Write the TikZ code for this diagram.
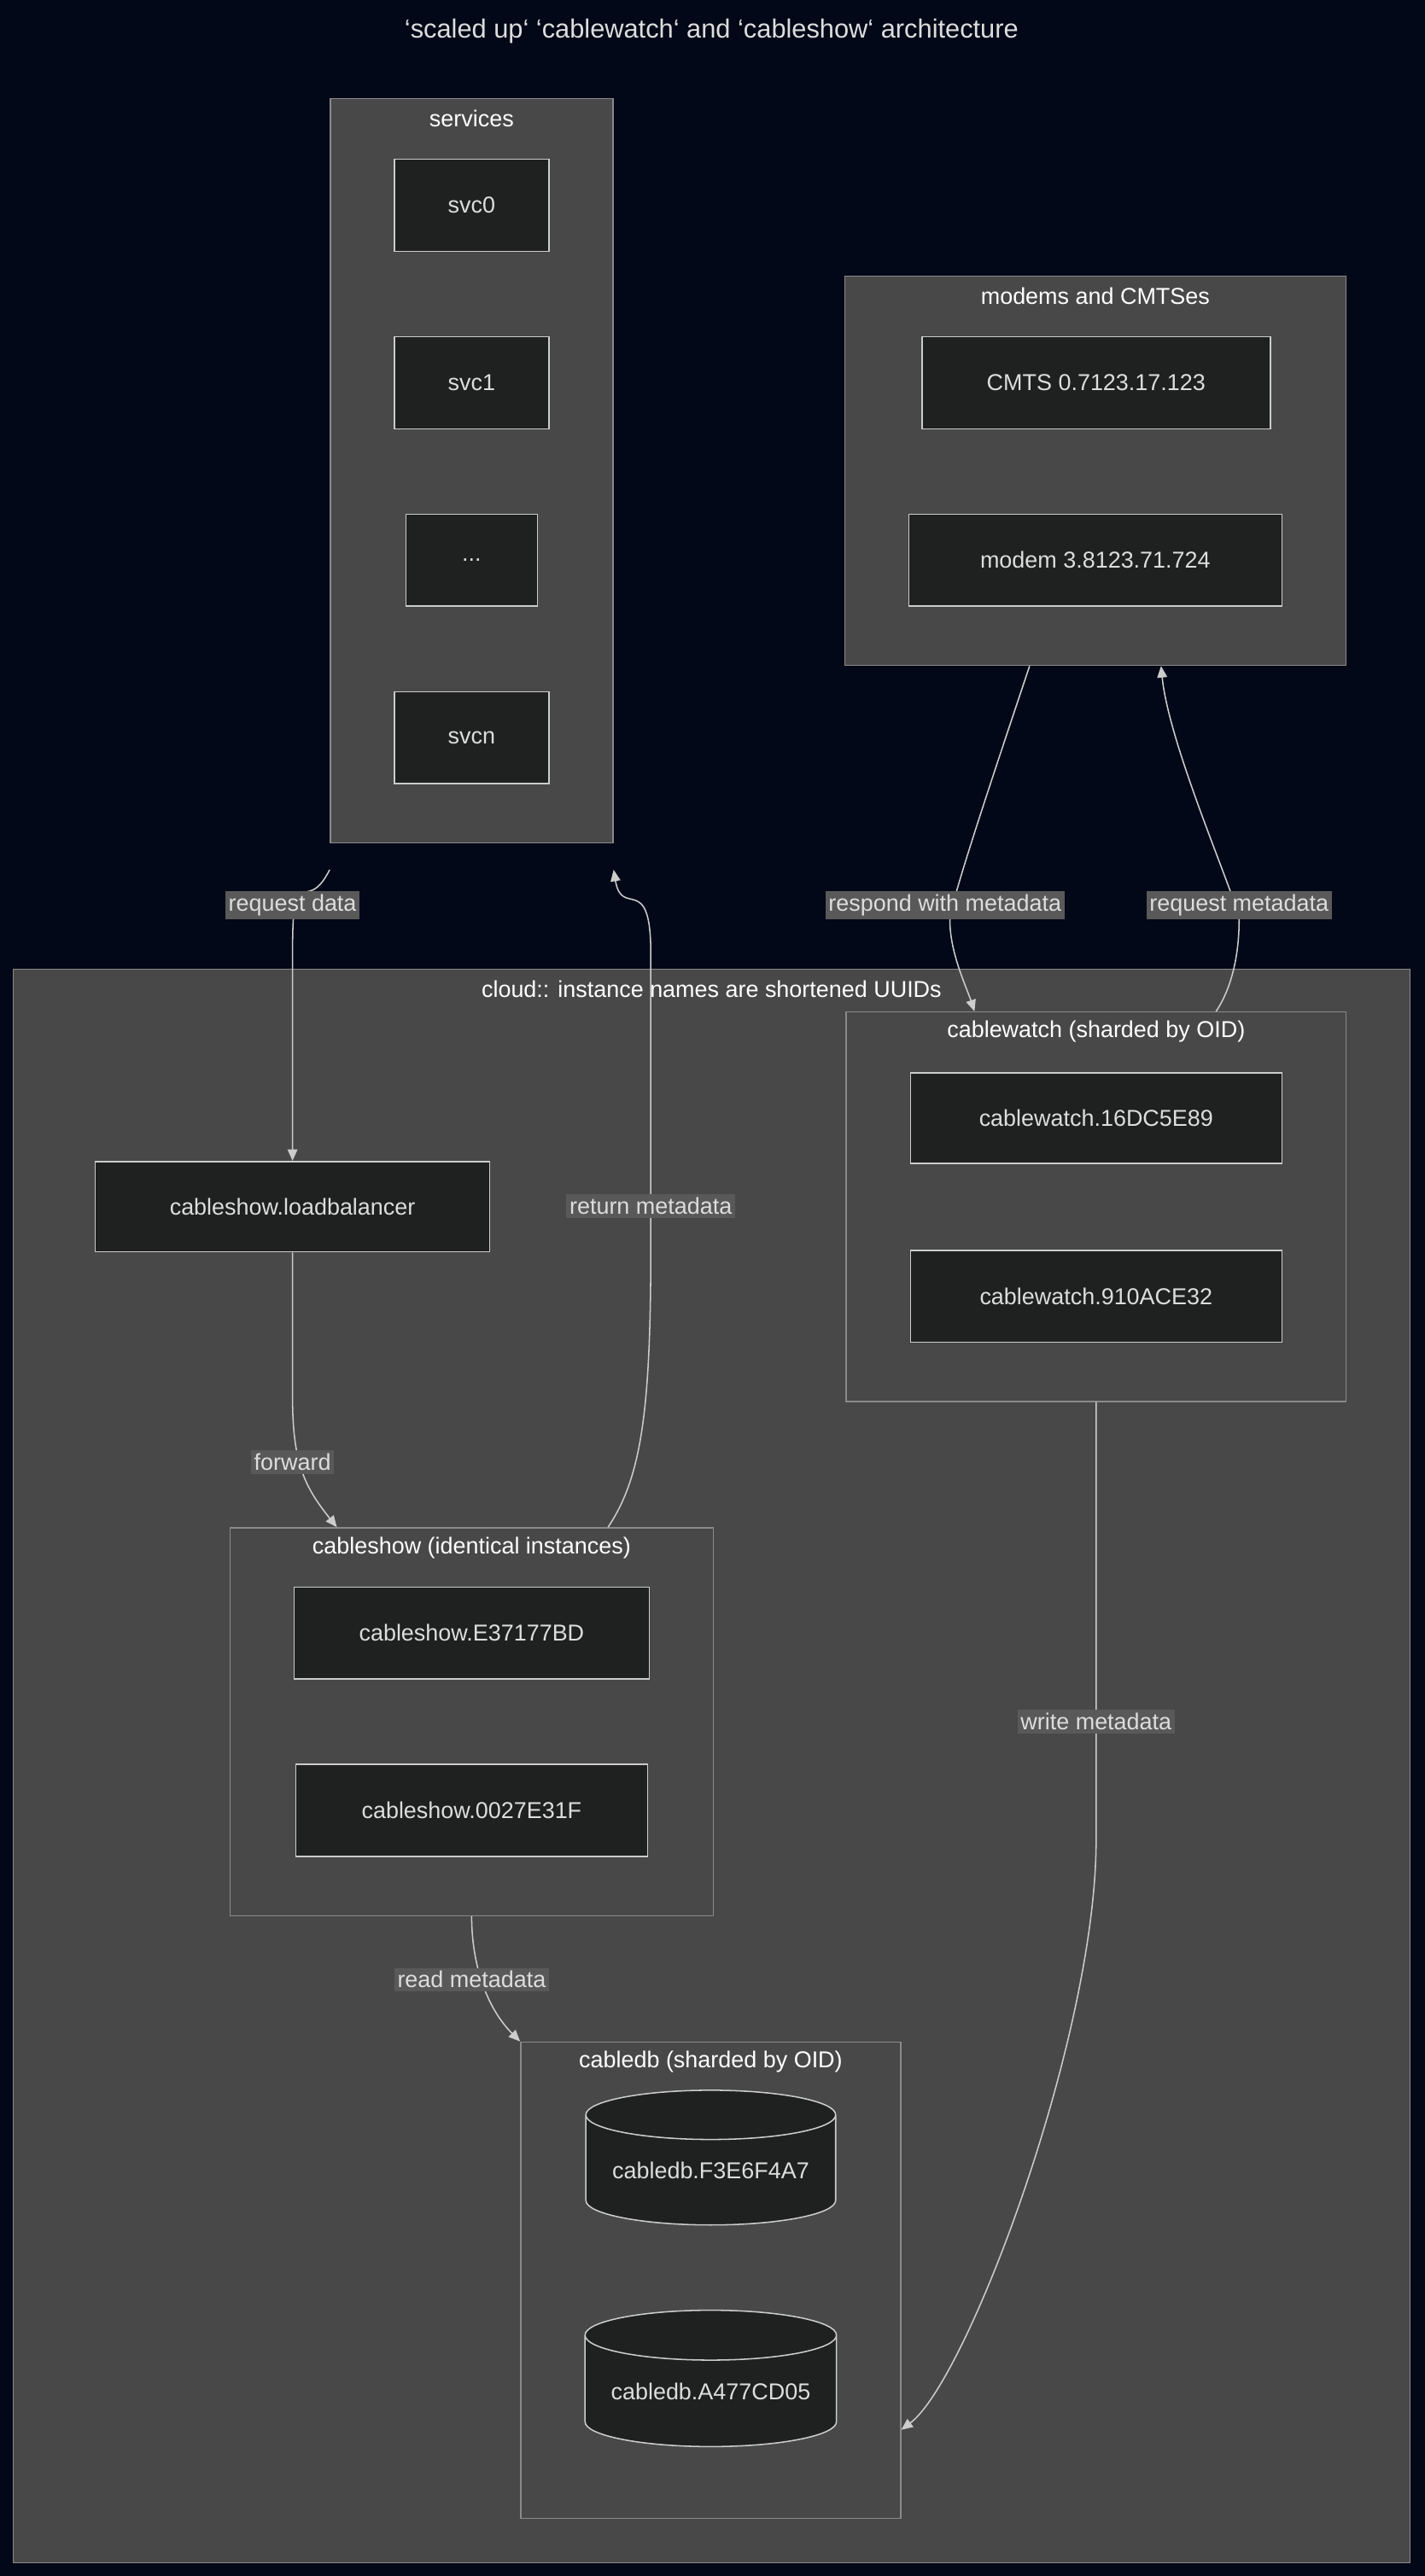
\documentclass[tikz,border=0pt]{standalone}
\usepackage{fontspec}
\setmainfont{Liberation Sans}
\usetikzlibrary{shapes.geometric,arrows.meta}
\definecolor{bg}{HTML}{020817}
\definecolor{grp}{HTML}{474847}
\definecolor{grpl}{HTML}{8A8A8A}
\definecolor{nd}{HTML}{1F2020}
\definecolor{ndl}{HTML}{CCCCCC}
\definecolor{txt}{HTML}{DDDDDD}
\definecolor{lbl}{HTML}{595959}
\begin{document}
\begin{tikzpicture}[x=1pt,y=-1pt,font=\fontsize{14}{16}\selectfont,
 grpbox/.style={draw=grpl,fill=grp,line width=0.8pt},
 glabel/.style={text=white,anchor=center,inner sep=0pt},
 box/.style={draw=ndl,fill=nd,text=txt,line width=0.8pt,inner sep=0pt},
 db/.style={cylinder,shape border rotate=90,aspect=0.25,draw=ndl,fill=nd,text=txt,line width=0.8pt,inner sep=0pt},
 elbl/.style={fill=lbl,text=txt,inner sep=2pt},
 edge/.style={draw=ndl,line width=0.8pt,-{Triangle[length=7pt,width=6pt]}}]
\fill[bg] (0,0) rectangle (867,1568);
\useasboundingbox (0,0) rectangle (867,1568);
\node[text=txt,font=\fontsize{16}{18}\selectfont] (title) at (433,19) {`scaled up` `cablewatch` and `cableshow` architecture};
% groups
\node[grpbox,minimum width=172,minimum height=453,inner sep=0pt] (services) at (287,286.5) {};
\node[glabel] (servicesl) at (287,72) {services};
\node[grpbox,minimum width=305,minimum height=237,inner sep=0pt] (modems) at (666.5,286.5) {};
\node[glabel] (modemsl) at (666.5,180) {modems and CMTSes};
\node[grpbox,minimum width=850,minimum height=970,inner sep=0pt] (cloud) at (433,1075) {};
\node[glabel] (cloudl) at (433,602) {cloud:: instance names are shortened UUIDs};
\node[grpbox,minimum width=304,minimum height=237,inner sep=0pt] (cwg) at (667,734.5) {};
\node[glabel] (cwgl) at (667,628) {cablewatch (sharded by OID)};
\node[grpbox,minimum width=294,minimum height=236,inner sep=0pt] (csg) at (287,1048) {};
\node[glabel] (csgl) at (287,942) {cableshow (identical instances)};
\node[grpbox,minimum width=231,minimum height=290,inner sep=0pt] (dbg) at (432.5,1388) {};
\node[glabel] (dbgl) at (432.5,1255) {cabledb (sharded by OID)};
% nodes
\node[box,minimum width=94,minimum height=56] (svc0) at (287,125) {svc0};
\node[box,minimum width=94,minimum height=56] (svc1) at (287,233) {svc1};
\node[box,minimum width=80,minimum height=56] (dots) at (287,341) {...};
\node[box,minimum width=94,minimum height=56] (svcn) at (287,449) {svcn};
\node[box,minimum width=212,minimum height=56] (cmts) at (667,233) {CMTS 0.7123.17.123};
\node[box,minimum width=227,minimum height=56] (modem) at (666.5,341) {modem 3.8123.71.724};
\node[box,minimum width=226,minimum height=55] (cw1) at (667,680.5) {cablewatch.16DC5E89};
\node[box,minimum width=226,minimum height=56] (cw2) at (667,789) {cablewatch.910ACE32};
\node[box,minimum width=240,minimum height=55] (lb) at (178,734.5) {cableshow.loadbalancer};
\node[box,minimum width=216,minimum height=56] (cs1) at (287,994) {cableshow.E37177BD};
\node[box,minimum width=214,minimum height=56] (cs2) at (287,1102) {cableshow.0027E31F};
\node[db,minimum width=152,minimum height=82] (db1) at (432.5,1321) {cabledb.F3E6F4A7};
\node[db,minimum width=153,minimum height=83] (db2) at (432.5,1455.5) {cabledb.A477CD05};
% edges
\draw[edge] ([yshift=-16]services.south west) .. controls +(-15,30) and +(0,-60) .. (178,580) -- (lb.north);
\node[elbl] (l1) at (178,551) {request data};
\draw[edge] ([xshift=83]csg.north) .. controls +(20,-30) and +(0,100) .. (396,760) -- (396,580) .. controls +(0,-50) and +(5,30) .. ([yshift=-16]services.south east);
\node[elbl] (l2) at (396,734) {return metadata};
\draw[edge] ([xshift=-40]modems.south) .. controls +(-20,60) and +(0,-10) .. (578,560) .. controls +(0,20) and +(-5,-15) .. ([xshift=-74]cwg.north);
\node[elbl] (l3) at (575,551) {respond with metadata};
\draw[edge] ([xshift=73]cwg.north) .. controls +(10,-15) and +(0,20) .. (754,560) .. controls +(0,-10) and +(5,50) .. ([xshift=40]modems.south);
\node[elbl] (l4) at (754,551) {request metadata};
\draw[edge] (lb.south) -- (178,850) .. controls +(0,40) and +(-20,-25) .. ([xshift=-82]csg.north);
\node[elbl] (l5) at (178,890) {forward};
\draw[edge] (csg.south) .. controls +(0,30) and +(-20,-20) .. ([xshift=-116]dbg.north);
\node[elbl] (l6) at (287,1205) {read metadata};
\draw[edge] (cwg.south) -- (667,1120) .. controls +(0,120) and +(40,-30) .. ([yshift=-91]dbg.east);
\node[elbl] (l7) at (667,1048) {write metadata};
\end{tikzpicture}
\end{document}
